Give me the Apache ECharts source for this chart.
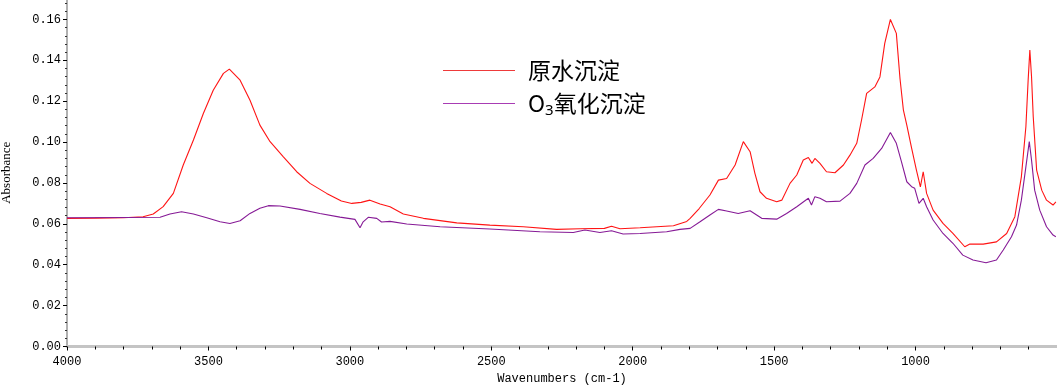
<!DOCTYPE html>
<html>
<head>
<meta charset="utf-8">
<script src="https://cdn.jsdelivr.net/npm/echarts@6/dist/echarts.min.js"></script>
<style>
html,body{margin:0;padding:0;background:#fff;}
#chart{width:1057px;height:385px;}
</style>
</head>
<body>
<div id="chart"></div>
<script>
// Wavenumbers (cm-1) and absorbance
const rawWn = [4000,3900,3800,3731,3695,3660,3624,3589,3553,3518,3483,3447,3426,3388,3353,3318,3282,3235,3188,3141,3082,3030,2993,2960,2929,2893,2858,2811,2740,2622,2505,2387,2269,2186,2100,2075,2045,1974,1856,1809,1797,1765,1727,1697,1668,1638,1609,1585,1568,1550,1527,1491,1473,1444,1420,1397,1379,1366,1356,1338,1315,1285,1255,1232,1208,1191,1173,1144,1126,1109,1089,1068,1055,1043,1031,1014,997,983,973,961,938,903,868,826,808,761,714,678,649,626,610,602,596,590,584,572,554,537,514,504];
const rawAbs = [0.0627,0.0628,0.0630,0.0635,0.0648,0.0684,0.0749,0.0888,0.1010,0.1140,0.1254,0.1336,0.1357,0.1303,0.1205,0.1083,0.1002,0.0928,0.0855,0.0798,0.0749,0.0712,0.0700,0.0705,0.0716,0.0697,0.0684,0.0648,0.0627,0.0605,0.0594,0.0586,0.0573,0.0576,0.0578,0.0588,0.0576,0.0581,0.0591,0.0612,0.0627,0.0675,0.0741,0.0814,0.0822,0.0888,0.1002,0.0953,0.0847,0.0757,0.0725,0.0708,0.0716,0.0798,0.0839,0.0912,0.0925,0.0896,0.0920,0.0896,0.0855,0.0850,0.0888,0.0936,0.0994,0.1108,0.1238,0.1270,0.1319,0.1483,0.1600,0.1532,0.1310,0.1156,0.1083,0.0970,0.0863,0.0781,0.0855,0.0749,0.0667,0.0602,0.0553,0.0488,0.0501,0.0501,0.0512,0.0553,0.0635,0.0830,0.1075,0.1303,0.1450,0.1320,0.1124,0.0863,0.0765,0.0716,0.0692,0.0708];

const o3Wn = [4000,3800,3671,3636,3595,3553,3506,3459,3424,3388,3353,3318,3288,3247,3176,3106,3035,2982,2964,2953,2935,2905,2888,2858,2799,2681,2505,2328,2210,2169,2116,2075,2034,1974,1880,1833,1797,1762,1727,1697,1668,1627,1585,1544,1491,1456,1420,1379,1368,1356,1338,1315,1267,1232,1208,1179,1150,1120,1089,1068,1050,1031,1014,1003,988,973,961,938,903,868,833,797,751,714,690,661,643,626,610,598,590,579,561,537,514,504];
const o3Abs = [0.0630,0.0631,0.0632,0.0648,0.0659,0.0648,0.0630,0.0610,0.0602,0.0615,0.0651,0.0676,0.0689,0.0687,0.0671,0.0651,0.0633,0.0622,0.0581,0.0610,0.0632,0.0627,0.0609,0.0612,0.0599,0.0586,0.0575,0.0561,0.0558,0.0570,0.0558,0.0566,0.0550,0.0553,0.0561,0.0573,0.0578,0.0610,0.0643,0.0671,0.0663,0.0651,0.0664,0.0627,0.0623,0.0651,0.0684,0.0725,0.0692,0.0733,0.0725,0.0708,0.0711,0.0749,0.0798,0.0888,0.0920,0.0969,0.1047,0.0994,0.0904,0.0806,0.0782,0.0774,0.0700,0.0725,0.0684,0.0619,0.0553,0.0505,0.0447,0.0423,0.0410,0.0423,0.0472,0.0537,0.0594,0.0716,0.0879,0.1002,0.0912,0.0765,0.0667,0.0586,0.0545,0.0537];

const seriesNames = ['原水沉淀', 'O3氧化沉淀'];
const xTicks = [4000, 3500, 3000, 2500, 2000, 1500, 1000];
const yTicks = [0, 0.02, 0.04, 0.06, 0.08, 0.10, 0.12, 0.14, 0.16];

const pairs = (xs, ys) => xs.map((x, i) => [x, ys[i]]);
const font = '"Liberation Mono", "DejaVu Sans Mono", monospace';

const chart = echarts.init(document.getElementById('chart'), null, {renderer: 'canvas'});
chart.setOption({
  animation: false,
  backgroundColor: '#ffffff',
  grid: {left: 67, right: 0, top: -1, bottom: 38.5, containLabel: false, outerBoundsMode: 'none'},
  legend: {
    orient: 'vertical',
    left: 443,
    top: 59,
    padding: 0,
    itemWidth: 72,
    itemHeight: 1,
    itemGap: 10,
    icon: 'rect',
    data: seriesNames,
    formatter: function (name) {
      if (name === 'O3氧化沉淀') return '{t|O}{s|3}{t|氧化沉淀}';
      return '{t|' + name + '}';
    },
    textStyle: {
      color: '#000',
      padding: [0, 0, 0, 8],
      rich: {
        t: {fontSize: 23, lineHeight: 30, fontFamily: '"Noto Sans CJK SC", "Noto Sans", sans-serif', color: '#000'},
        s: {fontSize: 15, lineHeight: 30, verticalAlign: 'bottom', padding: [9, 0, 0, 0], fontFamily: '"Noto Sans", sans-serif', color: '#000'}
      }
    }
  },
  xAxis: {
    type: 'value',
    inverse: true,
    min: 500,
    max: 4000,
    interval: 500,
    name: 'Wavenumbers (cm-1)',
    nameLocation: 'middle',
    nameGap: 26,
    nameTextStyle: {fontFamily: font, fontSize: 12, color: '#000'},
    axisLine: {show: true, onZero: false, lineStyle: {color: '#c4c4c4', width: 3}},
    axisTick: {show: true, length: 4, lineStyle: {color: '#000', width: 1}},
    minorTick: {show: true, splitNumber: 5, length: 3, lineStyle: {color: '#000', width: 1}},
    axisLabel: {
      fontFamily: font, fontSize: 12, color: '#000', margin: 9,
      formatter: v => xTicks.indexOf(v) >= 0 ? String(v) : ''
    },
    splitLine: {show: false}
  },
  yAxis: {
    type: 'value',
    min: 0,
    max: 0.17,
    interval: 0.02,
    name: 'Absorbance',
    nameLocation: 'middle',
    nameGap: 54,
    nameTextStyle: {fontFamily: '"Liberation Serif", "DejaVu Serif", serif', fontSize: 13, color: '#000'},
    axisLine: {show: true, lineStyle: {color: '#b0b0b0', width: 2}},
    axisTick: {show: true, length: 4, lineStyle: {color: '#000', width: 1}},
    minorTick: {show: true, splitNumber: 5, length: 2, lineStyle: {color: '#333', width: 1}},
    axisLabel: {
      fontFamily: font, fontSize: 12, color: '#000', margin: 6,
      formatter: v => yTicks.some(t => Math.abs(t - v) < 1e-9) ? v.toFixed(2) : ''
    },
    splitLine: {show: false}
  },
  series: [
    {
      name: seriesNames[0], type: 'line', showSymbol: false, symbol: 'none',
      data: pairs(rawWn, rawAbs),
      lineStyle: {color: '#ff1414', width: 1.1},
      itemStyle: {color: '#ee3a3a'}
    },
    {
      name: seriesNames[1], type: 'line', showSymbol: false, symbol: 'none',
      data: pairs(o3Wn, o3Abs),
      lineStyle: {color: '#861a96', width: 1.1},
      itemStyle: {color: '#a83cb4'}
    }
  ]
});
</script>
</body>
</html>
